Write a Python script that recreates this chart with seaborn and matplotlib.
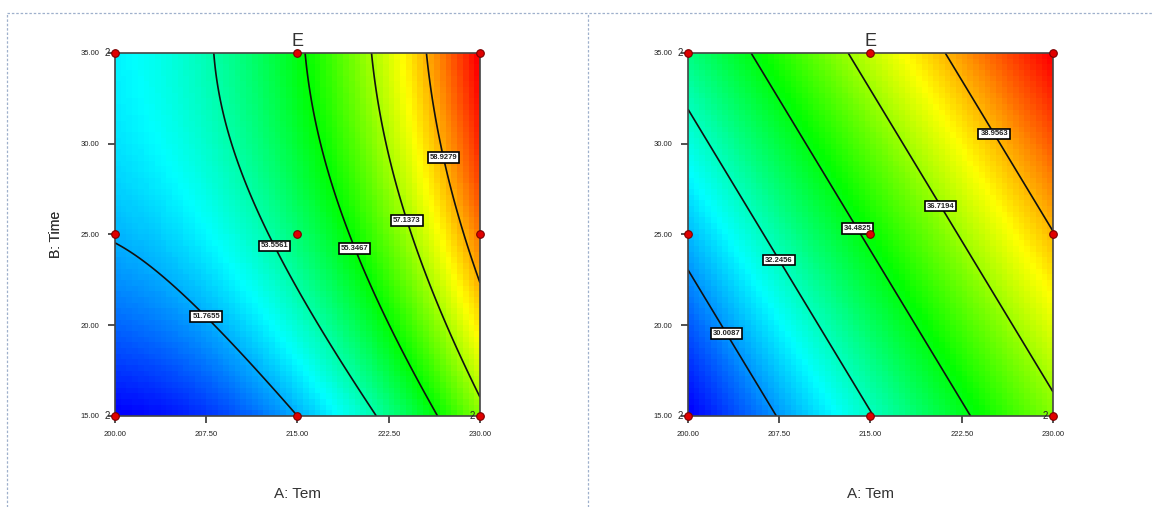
import numpy as np
import matplotlib
matplotlib.use("Agg")
import matplotlib.pyplot as plt
from matplotlib.colors import LinearSegmentedColormap
from matplotlib.lines import Line2D
import pandas as pd
import seaborn as sns

# ---------------- data ----------------
# factor ranges
a_range = [200.0, 230.0]      # A: Tem
b_range = [15.0, 35.0]        # B: Time
x_ticks = [200.0, 207.5, 215.0, 222.5, 230.0]
y_ticks = [15.0, 20.0, 25.0, 30.0, 35.0]
x_tick_labels = ["200.00", "207.50", "215.00", "222.50", "230.00"]
y_tick_labels = ["15.00", "20.00", "25.00", "30.00", "35.00"]

# quadratic response-surface coefficients in coded units
# order: intercept, A, B, AB, A^2, B^2
coef_left = [54.126, 3.850, 1.701, 0.376, 1.552, -0.659]
coef_right = [34.706, 4.205, 2.528, 0.0, 0.0, 0.0]

# contour levels (labels)
levels_left = [51.7655, 53.5561, 55.3467, 57.1373, 58.9279]
levels_right = [30.0087, 32.2456, 34.4825, 36.7194, 38.9563]

# design points
design_A = [200, 215, 230, 200, 215, 230, 200, 215, 230]
design_B = [15, 15, 15, 25, 25, 25, 35, 35, 35]
replicate_A = [200, 200, 230]
replicate_B = [35, 15, 15]
replicate_txt = ["2", "2", "2"]

# label placements (data coords)
lab_left = [(207.4, 20.4), (212.9, 24.3), (219.9, 24.3), (224.2, 25.8), (227.9, 29.4)]
lab_right = [(203.9, 19.85), (208.0, 23.8), (214.5, 25.55), (221.1, 26.7), (226.05, 30.9)]

# ---------------- style ----------------
sns.set_theme(style="white")
plt.rcParams["font.family"] = ["Liberation Sans", "DejaVu Sans"]

cmap = LinearSegmentedColormap.from_list(
    "de", ["#0000ff", "#00ffff", "#00ff00", "#ffff00", "#ff0000"])


def model(coef, A, B):
    x = (A - 215.0) / 15.0
    y = (B - 25.0) / 10.0
    b0, b1, b2, b12, b11, b22 = coef
    return b0 + b1 * x + b2 * y + b12 * x * y + b11 * x ** 2 + b22 * y ** 2


W, H = 1152, 507
fig = plt.figure(figsize=(W / 100, H / 100), dpi=100)

# dotted panel frames
frame_kw = dict(color="#9fb0cc", lw=0.9, ls=(0, (2, 1.5)), transform=fig.transFigure)
fig.add_artist(Line2D([7 / W, 1.0], [1 - 13 / H, 1 - 13 / H], **frame_kw))
fig.add_artist(Line2D([7 / W, 7 / W], [0, 1 - 13 / H], **frame_kw))
fig.add_artist(Line2D([588 / W, 588 / W], [0, 1 - 13 / H], **frame_kw))

panels = [
    (115, coef_left, levels_left, lab_left),
    (688, coef_right, levels_right, lab_right),
]

ax_w, ax_h = 365, 363
ax_top = 53

for x0, coef, levels, labpos in panels:
    ax = fig.add_axes([x0 / W, 1 - (ax_top + ax_h) / H, ax_w / W, ax_h / H])

    # blocky coloured field
    n = 64
    ae = np.linspace(a_range[0], a_range[1], n + 1)
    be = np.linspace(b_range[0], b_range[1], n + 1)
    ac = 0.5 * (ae[:-1] + ae[1:])
    bc = 0.5 * (be[:-1] + be[1:])
    AC, BC = np.meshgrid(ac, bc)
    Zc = model(coef, AC, BC)
    ax.pcolormesh(ae, be, Zc, cmap=cmap, shading="flat", rasterized=True)

    # contours on fine grid
    af = np.linspace(a_range[0], a_range[1], 300)
    bf = np.linspace(b_range[0], b_range[1], 300)
    AF, BF = np.meshgrid(af, bf)
    ZF = model(coef, AF, BF)
    cs = ax.contour(AF, BF, ZF, levels=levels, colors="#111111", linewidths=1.2)
    texts = ax.clabel(cs, fmt="%.4f", manual=labpos, inline=False, fontsize=5.5)
    for t in texts:
        t.set_fontweight("bold")
        t.set_color("#222222")
        t.set_rotation(0)
        t.set_bbox(dict(boxstyle="square,pad=0.25", fc="white", ec="black", lw=1.2))
        t.set_zorder(6)

    # design points
    dp = pd.DataFrame({"A": design_A, "B": design_B})
    sns.scatterplot(data=dp, x="A", y="B", ax=ax, s=30, color="#e00000",
                    edgecolor="#7a0000", linewidth=0.8, zorder=7, clip_on=False,
                    legend=False)
    for a, b, t in zip(replicate_A, replicate_B, replicate_txt):
        ax.annotate(t, (a, b), xytext=(-3.5, 0), textcoords="offset points",
                    ha="right", va="center", fontsize=7, color="#222222",
                    annotation_clip=False)

    ax.set_xlim(a_range)
    ax.set_ylim(b_range)
    ax.set_xticks(x_ticks)
    ax.set_xticklabels(x_tick_labels)
    ax.set_yticks(y_ticks)
    ax.set_yticklabels(y_tick_labels)
    ax.tick_params(axis="both", which="both", direction="out", length=5,
                   width=1.2, color="#333333", labelsize=5.5, labelcolor="#222222",
                   bottom=True, left=True, pad=6)
    for s in ax.spines.values():
        s.set_color("#444444")
        s.set_linewidth(1.2)

    ax.set_title("E", fontsize=13, color="#333333", pad=5)
    ax.set_xlabel("A: Tem", fontsize=11, color="#333333")
    ax.set_ylabel("B: Time", fontsize=10, color="#333333")
    ax.xaxis.set_label_coords(0.5, -(487 - (ax_top + ax_h)) / ax_h)
    ax.yaxis.set_label_coords(-(x0 - 63) / ax_w, 0.5)

fig.savefig("out.png", dpi=100)
